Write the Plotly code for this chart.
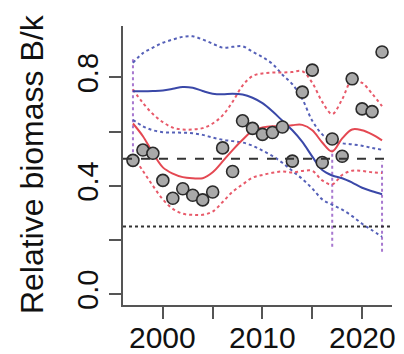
import plotly.graph_objects as go

years = list(range(1997, 2023))
obs = [0.494, 0.532, 0.520, 0.420, 0.354, 0.389, 0.365, 0.348, 0.377, 0.540,
       0.453, 0.640, 0.612, 0.590, 0.597, 0.617, 0.491, 0.746, 0.827, 0.486,
       0.573, 0.509, 0.795, 0.684, 0.674, 0.894]

bk_med = [0.749, 0.749, 0.750, 0.752, 0.758, 0.765, 0.762, 0.750, 0.740, 0.738,
          0.740, 0.737, 0.725, 0.705, 0.675, 0.640, 0.605, 0.562, 0.508, 0.458,
          0.438, 0.428, 0.412, 0.393, 0.380, 0.369]
bk_hi = [0.854, 0.890, 0.910, 0.928, 0.940, 0.950, 0.952, 0.940, 0.925, 0.910,
         0.913, 0.915, 0.895, 0.875, 0.850, 0.810, 0.775, 0.720, 0.640, 0.590,
         0.565, 0.557, 0.553, 0.548, 0.540, 0.533]
bk_lo = [0.644, 0.620, 0.605, 0.598, 0.597, 0.596, 0.594, 0.588, 0.578, 0.570,
         0.565, 0.560, 0.548, 0.530, 0.510, 0.485, 0.455, 0.425, 0.390, 0.350,
         0.330, 0.312, 0.288, 0.260, 0.236, 0.212]

cm_med = [0.630, 0.583, 0.521, 0.468, 0.445, 0.432, 0.428, 0.428, 0.450, 0.490,
          0.532, 0.570, 0.603, 0.615, 0.620, 0.620, 0.624, 0.625, 0.605, 0.560,
          0.527, 0.575, 0.608, 0.605, 0.590, 0.568]
cm_hi = [0.756, 0.706, 0.665, 0.635, 0.615, 0.608, 0.608, 0.613, 0.630, 0.660,
         0.710, 0.770, 0.805, 0.815, 0.818, 0.818, 0.820, 0.823, 0.780, 0.710,
         0.665, 0.720, 0.790, 0.780, 0.740, 0.694]
cm_lo = [0.510, 0.455, 0.400, 0.350, 0.315, 0.297, 0.293, 0.293, 0.305, 0.340,
         0.378, 0.405, 0.430, 0.440, 0.448, 0.453, 0.449, 0.455, 0.455, 0.420,
         0.405, 0.440, 0.456, 0.455, 0.450, 0.447]

prior_years = [1997, 2017, 2022]
prior_lo = [0.48, 0.175, 0.157]
prior_hi = [0.874, 0.533, 0.490]

ref_half = 0.5
ref_quarter = 0.25

x_ticks = [2000, 2005, 2010, 2015, 2020]
x_label_vals = [2000, 2010, 2020]
x_label_text = ["2000", "2010", "2020"]
y_ticks = [0.0, 0.2, 0.4, 0.6, 0.8]
y_ticktext = ["0.0", "", "0.4", "", "0.8"]

BLUE = "#3a48a8"
BLUE_D = "#5560b8"
RED = "#e44852"
RED_D = "#e85a6a"
PURPLE = "#a878d0"
FONT = "Liberation Sans, Arial"

fig = go.Figure()

for yr, lo, hi in zip(prior_years, prior_lo, prior_hi):
    fig.add_trace(go.Scatter(x=[yr, yr], y=[lo, hi], mode="lines",
                             line=dict(color=PURPLE, width=2, dash="dot"),
                             hoverinfo="skip"))

fig.add_trace(go.Scatter(x=years, y=bk_hi, mode="lines", line_shape="spline",
                         line=dict(color=BLUE_D, width=2, dash="dot")))
fig.add_trace(go.Scatter(x=years, y=bk_lo, mode="lines", line_shape="spline",
                         line=dict(color=BLUE_D, width=2, dash="dot")))
fig.add_trace(go.Scatter(x=years, y=cm_hi, mode="lines", line_shape="spline",
                         line=dict(color=RED_D, width=2, dash="dot")))
fig.add_trace(go.Scatter(x=years, y=cm_lo, mode="lines", line_shape="spline",
                         line=dict(color=RED_D, width=2, dash="dot")))
fig.add_trace(go.Scatter(x=years, y=cm_med, mode="lines", line_shape="spline",
                         line=dict(color=RED, width=2)))
fig.add_trace(go.Scatter(x=years, y=bk_med, mode="lines", line_shape="spline",
                         line=dict(color=BLUE, width=2)))

fig.add_hline(y=ref_half, line=dict(color="#333333", width=2, dash="dash"))
fig.add_hline(y=ref_quarter, line=dict(color="#333333", width=2, dash="dot"))

fig.add_trace(go.Scatter(x=years, y=obs, mode="markers",
                         marker=dict(size=12, color="#a9a9a9",
                                     line=dict(color="#2a2a2a", width=1.6))))

fig.add_annotation(text="Relative biomass B/k", xref="paper", yref="paper",
                   x=0, y=0.505, xanchor="center", yanchor="middle",
                   xshift=-91, textangle=-90, showarrow=False,
                   font=dict(family=FONT, size=32, color="#111"))

for xv, xt in zip(x_label_vals, x_label_text):
    fig.add_annotation(text=xt, xref="x", yref="paper", x=xv, y=0,
                       xanchor="center", yanchor="middle", yshift=-32,
                       showarrow=False,
                       font=dict(family=FONT, size=30, color="#111"))

fig.update_layout(
    width=404, height=354,
    margin=dict(l=123, r=12, t=26, b=49, autoexpand=False),
    paper_bgcolor="white", plot_bgcolor="white",
    showlegend=False,
    font=dict(family=FONT, size=30, color="#111"),
)
fig.update_xaxes(range=[1996, 2023], showgrid=False, zeroline=False,
                 automargin=False,
                 showline=True, linecolor="#555", linewidth=1.5,
                 ticks="outside", ticklen=12, tickwidth=1.5, tickcolor="#555",
                 tickvals=x_ticks, showticklabels=False)
fig.update_yaxes(range=[-0.04, 0.99], showgrid=False, zeroline=False,
                 automargin=False,
                 showline=True, linecolor="#555", linewidth=1.5,
                 ticks="outside", ticklen=12, tickwidth=1.5, tickcolor="#555",
                 tickvals=y_ticks, ticktext=y_ticktext, tickangle=-90,
                 tickfont=dict(size=29))

fig.write_html("out.html")
